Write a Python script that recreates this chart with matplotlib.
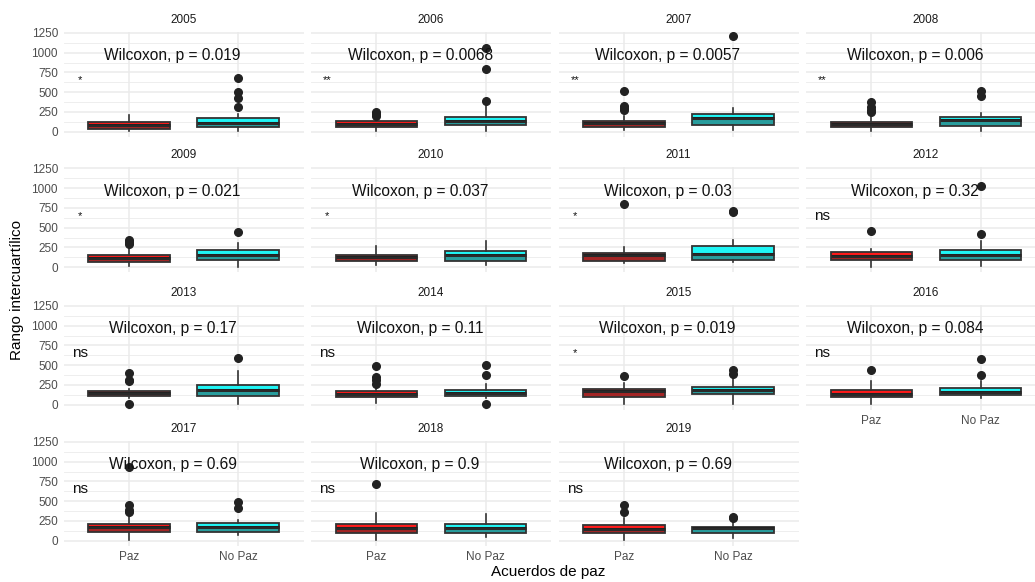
import matplotlib
matplotlib.use("Agg")
import matplotlib.pyplot as plt

plt.rcParams['font.family'] = ['Liberation Sans', 'DejaVu Sans']

years = [2005, 2006, 2007, 2008, 2009, 2010, 2011, 2012,
         2013, 2014, 2015, 2016, 2017, 2018, 2019]
groups = ["Paz", "No Paz"]

# p-values and significance labels per year
pvals = ["0.019", "0.0068", "0.0057", "0.006", "0.021", "0.037", "0.03", "0.32",
         "0.17", "0.11", "0.019", "0.084", "0.69", "0.9", "0.69"]
signif = ["*", "**", "**", "**", "*", "*", "*", "ns",
          "ns", "ns", "*", "ns", "ns", "ns", "ns"]

# box statistics: Paz
paz_lo = [10, 10, 20, 13, 20, 25, 55, 0, 85, 25, 13, 13, 8, 8, 8]
paz_q1 = [34, 60, 55, 55, 63, 75, 84, 96, 106, 98, 98, 93, 105, 101, 93]
paz_med = [85, 95, 110, 98, 117, 126, 159, 147, 153, 136, 170, 140, 168, 156, 147]
paz_q3 = [119, 130, 140, 127, 159, 159, 180, 193, 174, 170, 195, 191, 206, 206, 198]
paz_hi = [216, 180, 204, 204, 264, 264, 251, 235, 204, 204, 280, 297, 300, 345, 282]
paz_out = [[], [200, 225, 250], [275, 300, 330, 513], [246, 275, 318, 373],
           [293, 318, 348], [], [796], [453], [13, 297, 318, 407],
           [267, 310, 352, 488], [365], [445], [358, 387, 450, 935], [716], [366, 450]]

# box statistics: No Paz
nop_lo = [13, 13, 25, 13, 0, 25, 67, 13, 13, 90, 13, 85, 72, 42, 30]
nop_q1 = [55, 85, 85, 76, 88, 84, 96, 96, 110, 110, 131, 119, 114, 93, 93]
nop_med = [114, 131, 174, 153, 150, 159, 168, 159, 182, 153, 182, 161, 168, 156, 156]
nop_q3 = [170, 191, 225, 191, 222, 210, 272, 222, 254, 191, 225, 212, 219, 206, 177]
nop_hi = [225, 330, 297, 233, 306, 327, 339, 327, 424, 267, 352, 297, 261, 333, 219]
nop_out = [[318, 424, 500, 678], [394, 789, 1064], [1208], [449, 513], [444], [],
           [704, 716], [419, 1031], [594], [13, 373, 509], [394, 445], [373, 585],
           [417, 493], [], [282, 303]]

colors = ["#FF1A1A", "#1FF5F5"]

W, H = 1035, 582
fig = plt.figure(figsize=(W / 100, H / 100), dpi=100)

col_left = [63.5, 311, 558.5, 806]
row_top = [31.5, 167, 304.5, 440.5]
pw, ph = 240, 105

for i, yr in enumerate(years):
    r, c = divmod(i, 4)
    ax = fig.add_axes([col_left[c] / W, 1 - (row_top[r] + ph) / H, pw / W, ph / H])
    ax.set_facecolor("none")

    stats = [
        dict(whislo=paz_lo[i], q1=paz_q1[i], med=paz_med[i], q3=paz_q3[i],
             whishi=paz_hi[i], fliers=paz_out[i]),
        dict(whislo=nop_lo[i], q1=nop_q1[i], med=nop_med[i], q3=nop_q3[i],
             whishi=nop_hi[i], fliers=nop_out[i]),
    ]
    bp = ax.bxp(stats, positions=[1, 2], widths=0.75, patch_artist=True,
                showcaps=False, manage_ticks=False,
                boxprops=dict(edgecolor="#333333", linewidth=1.3),
                whiskerprops=dict(color="#333333", linewidth=1.2),
                medianprops=dict(color="#222222", linewidth=2.2),
                flierprops=dict(marker="o", markersize=5.5, markerfacecolor="#222222",
                                markeredgecolor="#222222"))
    for patch, col in zip(bp["boxes"], colors):
        patch.set_facecolor(col)
    # darker overlapping layer in the lower half of each box
    ax.bar([1, 2], [paz_med[i] - paz_q1[i], nop_med[i] - nop_q1[i]],
           bottom=[paz_q1[i], nop_q1[i]], width=0.75, color="#333333",
           alpha=0.45, zorder=3)

    ax.set_xlim(0.4, 2.6)
    ax.set_ylim(-60.4, 1268.4)
    ax.set_yticks([0, 250, 500, 750, 1000, 1250])
    ax.set_yticks([125, 375, 625, 875, 1125], minor=True)
    if i < 11:
        ax.set_xticks([1, 2], ["", ""])
    else:
        ax.set_xticks([1, 2], groups)
    if c != 0:
        ax.set_yticklabels([])
    ax.grid(True, which="major", color="#EBEBEB", linewidth=1.1)
    ax.grid(True, which="minor", axis="y", color="#EBEBEB", linewidth=0.6)
    ax.set_axisbelow(True)
    for s in ax.spines.values():
        s.set_visible(False)
    ax.tick_params(which="both", length=0, labelsize=8.5, labelcolor="#4D4D4D", pad=4)

    ax.text(1.4, 960, "Wilcoxon, p = " + pvals[i], ha="center", va="center",
            fontsize=11.2, color="#111111")
    ax.text(0.55, 650, signif[i], ha="center", va="center",
            fontsize=11 if signif[i] == "ns" else 8, color="#111111")
    ax.text(0.5, 1 + 11.5 / ph, str(yr), transform=ax.transAxes,
            ha="center", va="center", fontsize=8.5, color="#1A1A1A")

fig.text(17 / W, 1 - 290 / H, "Rango intercuartílico", rotation=90,
         ha="center", va="center", fontsize=11)
fig.text(548 / W, 1 - 572 / H, "Acuerdos de paz", ha="center", va="center",
         fontsize=11)

fig.savefig("out.png", dpi=100, facecolor="white")
